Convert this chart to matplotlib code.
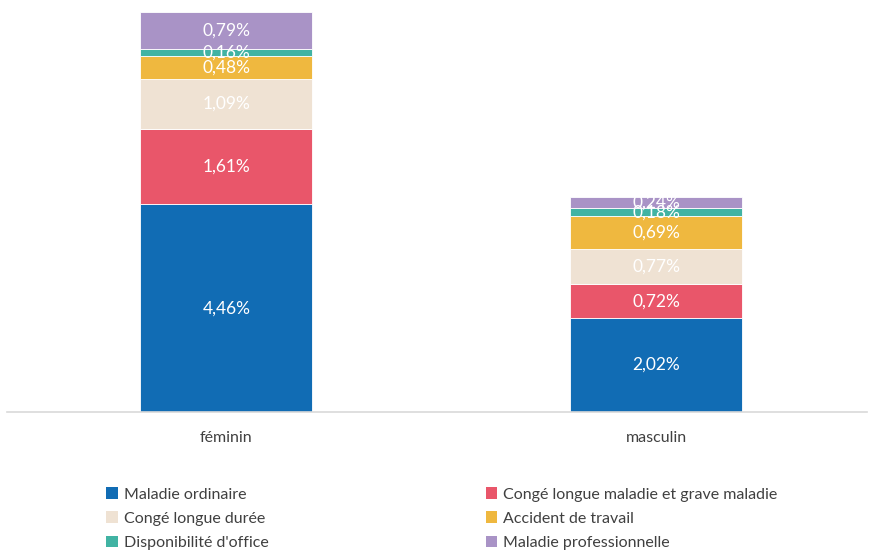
import matplotlib.pyplot as plt
import numpy as np
from matplotlib.patches import Patch

plt.rcParams['font.family'] = ['Lato', 'DejaVu Sans']

categories = ['féminin', 'masculin']
series = ['Maladie ordinaire', 'Congé longue maladie et grave maladie',
          'Congé longue durée', 'Accident de travail',
          "Disponibilité d'office", 'Maladie professionnelle']
values = {
    'Maladie ordinaire': [4.46, 2.02],
    'Congé longue maladie et grave maladie': [1.61, 0.72],
    'Congé longue durée': [1.09, 0.77],
    'Accident de travail': [0.48, 0.69],
    "Disponibilité d'office": [0.16, 0.18],
    'Maladie professionnelle': [0.79, 0.24],
}
colors = ['#116cb4', '#e9566a', '#efe2d3', '#efb83f', '#41b3a3', '#a993c6']

fig = plt.figure(figsize=(8.72, 5.52), dpi=100)
ax = fig.add_axes([7 / 872, 140 / 552, 860 / 872, 407 / 552])

x = np.arange(len(categories))
bottom = np.zeros(len(categories))
for name, col in zip(series, colors):
    v = np.array(values[name])
    ax.bar(x, v, 0.4, bottom=bottom, color=col, edgecolor='white', linewidth=0.6)
    for xi, b, val in zip(x, bottom, v):
        ax.text(xi, b + val / 2, f'{val:.2f}%'.replace('.', ','),
                ha='center', va='center', color='white', fontsize=12.5)
    bottom += v

ax.set_xlim(-0.51, 1.49)
ax.set_ylim(0, 8.74)
ax.set_yticks([])
ax.set_xticks(x)
ax.set_xticklabels(categories, fontsize=11.5, color='#404040')
ax.tick_params(axis='x', length=0, pad=14)
for s in ['top', 'right', 'left']:
    ax.spines[s].set_visible(False)
ax.spines['bottom'].set_color('#d9d9d9')
ax.spines['bottom'].set_linewidth(1.2)

# legend rows are read left-to-right, matplotlib fills columns first
order = [0, 2, 4, 1, 3, 5]
handles = [Patch(facecolor=colors[i], label=series[i]) for i in order]
fig.legend(handles=handles, ncol=2, loc='upper left',
           bbox_to_anchor=(92 / 872, 1 - 473 / 552), frameon=False,
           fontsize=11.5, handlelength=0.7, handleheight=0.7, handletextpad=0.4,
           columnspacing=13.6, labelspacing=0.62, labelcolor='#404040')

fig.savefig('out.png', dpi=100)
